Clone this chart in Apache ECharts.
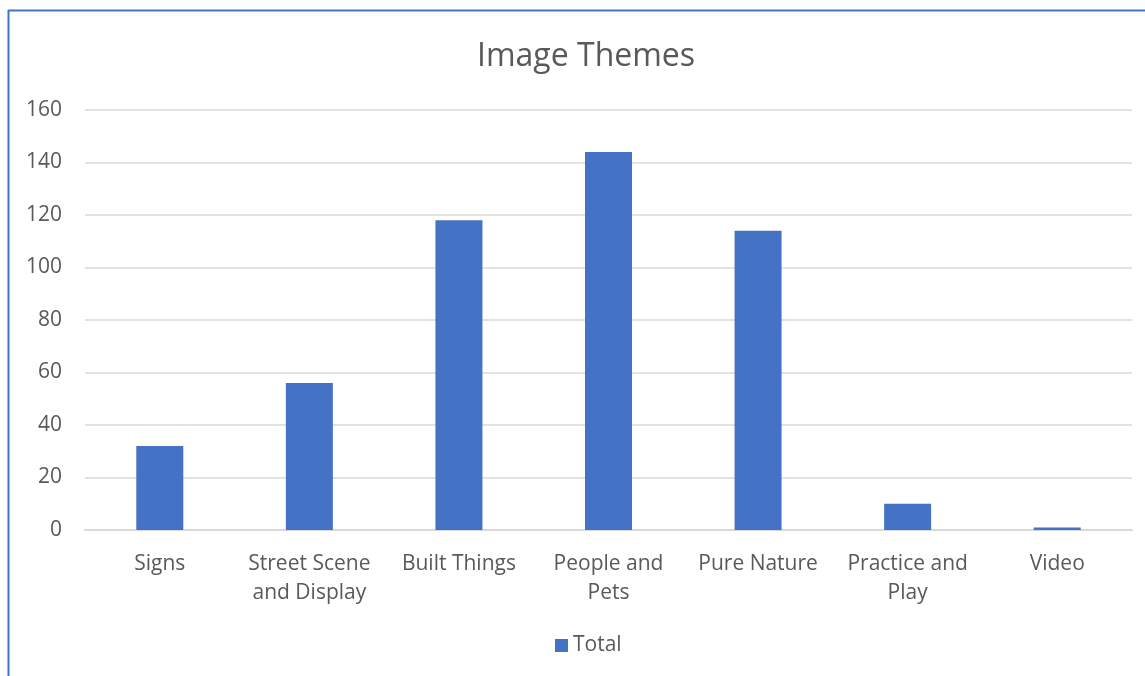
<!DOCTYPE html>
<html>
<head>
<meta charset="utf-8">
<script src="https://cdn.jsdelivr.net/npm/echarts@6/dist/echarts.min.js"></script>
<style>
html,body{margin:0;padding:0;background:#fff;}
#c{width:1145px;height:676px;}
</style>
</head>
<body>
<div id="c"></div>
<script>
const categories = ['Signs', 'Street Scene\nand Display', 'Built Things', 'People and\nPets', 'Pure Nature', 'Practice and\nPlay', 'Video'];
const totals = [32, 56, 118, 144, 114, 10, 1];
const yTicks = [0, 20, 40, 60, 80, 100, 120, 140, 160];

const font = '"Open Sans", "Noto Sans", sans-serif';
const chart = echarts.init(document.getElementById('c'), null, {renderer: 'canvas'});
chart.setOption({
  animation: false,
  backgroundColor: '#fff',
  title: {
    text: 'Image Themes',
    left: 472,
    top: 36,
    textStyle: {fontFamily: font, fontSize: 32, fontWeight: 'normal', color: '#595959'}
  },
  legend: {
    data: ['Total'],
    bottom: 15,
    left: 550,
    itemWidth: 13,
    itemHeight: 13,
    itemGap: 6,
    icon: 'rect',
    textStyle: {fontFamily: font, fontSize: 21, color: '#595959'}
  },
  grid: {left: 85, right: 13, top: 110, bottom: 146, containLabel: false},
  xAxis: {
    type: 'category',
    data: categories,
    axisLine: {lineStyle: {color: '#d9d9d9', width: 2}},
    axisTick: {show: false},
    axisLabel: {fontFamily: font, fontSize: 21, color: '#595959', margin: 20, lineHeight: 29, interval: 0}
  },
  yAxis: {
    type: 'value',
    min: yTicks[0],
    max: yTicks[yTicks.length - 1],
    interval: 20,
    axisLine: {show: false},
    axisTick: {show: false},
    splitLine: {lineStyle: {color: '#d9d9d9', width: 1.5}},
    axisLabel: {fontFamily: font, fontSize: 21, color: '#595959', margin: 23}
  },
  series: [{
    name: 'Total',
    type: 'bar',
    data: totals,
    barWidth: 47,
    itemStyle: {color: '#4472C4'}
  }],
  graphic: [
    {type: 'line', shape: {x1: 8.5, y1: 10, x2: 8.5, y2: 676}, style: {stroke: '#4472C4', lineWidth: 2}},
    {type: 'line', shape: {x1: 8, y1: 10.5, x2: 1145, y2: 10.5}, style: {stroke: '#4472C4', lineWidth: 2}}
  ]
});
</script>
</body>
</html>
